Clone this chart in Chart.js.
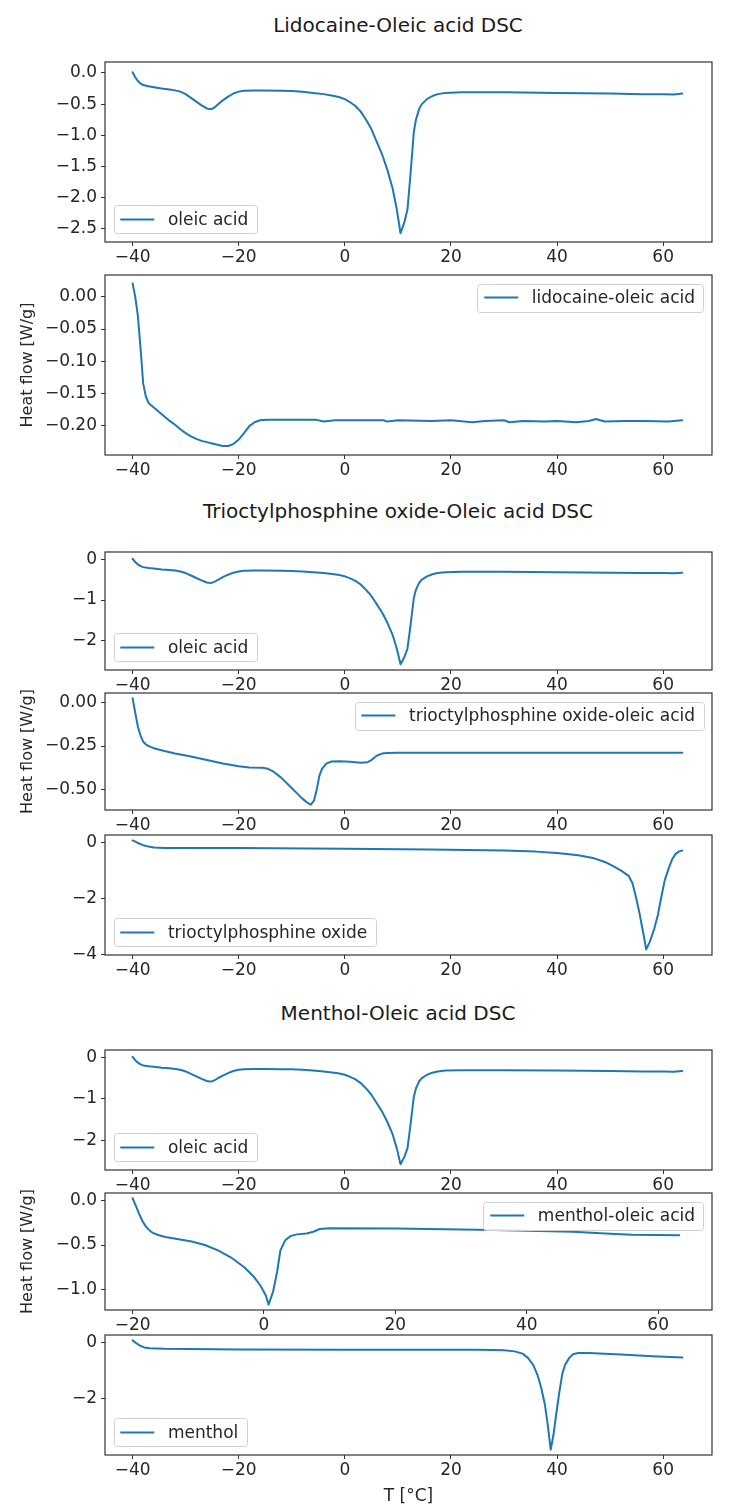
<!DOCTYPE html>
<html>
<head>
<meta charset="utf-8">
<script src="https://cdn.jsdelivr.net/npm/chart.js@4.4.1/dist/chart.umd.min.js"></script>
<style>
  html, body { margin: 0; padding: 0; background: #ffffff; }
  body { width: 752px; height: 1510px; position: relative; overflow: hidden; font-family: 'DejaVu Sans', sans-serif; }
  .title { position: absolute; left: 0; width: 796px; text-align: center; font-size: 20px; line-height: 24px; color: #1a1a1a; }
  .panel { position: absolute; left: 0; width: 752px; }
  canvas { display: block; }
</style>
</head>
<body>
<div class="title" style="top:13px">Lidocaine-Oleic acid DSC</div>
<div class="title" style="top:499px">Trioctylphosphine oxide-Oleic acid DSC</div>
<div class="title" style="top:1001px">Menthol-Oleic acid DSC</div>
<div id="host"></div>
<script>
// ---------------- data ----------------
const oleicT  = [-40, -39.5, -39, -38.5, -38, -37, -36, -34.5, -33, -32, -31, -30, -29, -28, -27, -26, -25.5, -25, -24.5, -24, -23, -22, -21, -20, -19, -17, -15, -12, -10, -8, -6, -4, -2, -1, 0, 1, 2, 3, 4, 5, 6, 7, 8, 9, 9.8, 10.5, 11.2, 11.8, 12.4, 13, 13.4, 14, 14.5, 15.5, 16.5, 17.5, 19, 22, 30, 40, 50, 56, 60, 62, 63.6];
const oleicHF = [0.01, -0.07, -0.13, -0.17, -0.195, -0.215, -0.23, -0.25, -0.265, -0.28, -0.30, -0.34, -0.40, -0.46, -0.52, -0.57, -0.58, -0.575, -0.55, -0.51, -0.44, -0.38, -0.33, -0.30, -0.285, -0.28, -0.28, -0.285, -0.29, -0.30, -0.32, -0.34, -0.37, -0.39, -0.42, -0.47, -0.53, -0.62, -0.75, -0.90, -1.10, -1.30, -1.55, -1.85, -2.19, -2.57, -2.40, -2.19, -1.60, -0.95, -0.75, -0.58, -0.50, -0.42, -0.37, -0.34, -0.32, -0.31, -0.31, -0.32, -0.33, -0.34, -0.34, -0.345, -0.33];

const lidoOleicT  = [-40, -39.5, -39, -38.5, -38, -37.5, -37, -36, -35, -34, -33, -32, -31, -30, -29, -28, -27, -26, -25, -24, -23, -22, -21, -20, -19, -18, -17, -16, -14.5, -5.5, -4, -1.8, 7.3, 8, 10, 16.4, 20, 24, 26.4, 30, 31, 33.6, 37.7, 40, 43.6, 46, 47.3, 49, 52.7, 56.4, 61, 63.6];
const lidoOleicHF = [0.021, 0.0, -0.03, -0.08, -0.135, -0.155, -0.165, -0.172, -0.179, -0.186, -0.193, -0.199, -0.206, -0.212, -0.217, -0.221, -0.224, -0.226, -0.228, -0.230, -0.232, -0.232, -0.229, -0.222, -0.212, -0.201, -0.195, -0.192, -0.191, -0.191, -0.194, -0.192, -0.192, -0.194, -0.192, -0.193, -0.192, -0.195, -0.193, -0.192, -0.195, -0.193, -0.194, -0.193, -0.195, -0.193, -0.190, -0.194, -0.193, -0.193, -0.194, -0.192];

const topoOleicT  = [-40, -39.5, -39, -38.5, -38, -37.5, -37, -36, -34, -32, -29, -26, -23, -20, -18, -15.5, -14.5, -13.5, -12, -10.5, -9, -8, -7, -6.4, -5.8, -5.3, -4.8, -4.3, -3.5, -2.5, -1, 1, 3, 4.3, 5, 6, 7, 8, 10, 20, 63.6];
const topoOleicHF = [0.023, -0.06, -0.14, -0.19, -0.225, -0.24, -0.25, -0.262, -0.278, -0.292, -0.31, -0.33, -0.35, -0.365, -0.372, -0.374, -0.38, -0.395, -0.43, -0.475, -0.52, -0.55, -0.575, -0.585, -0.56, -0.50, -0.42, -0.38, -0.35, -0.338, -0.336, -0.34, -0.345, -0.342, -0.33, -0.305, -0.293, -0.289, -0.288, -0.288, -0.288];

const topoT  = [-40, -39, -38, -37, -36, -34, -20, 0, 16, 30, 36, 40, 44, 47, 49, 50.5, 52, 53.5, 54.2, 54.8, 55.5, 56.2, 56.8, 57.5, 58.3, 59, 59.7, 60.3, 61, 61.7, 62.3, 63, 63.6];
const topoHF = [0.07, -0.02, -0.10, -0.15, -0.18, -0.20, -0.20, -0.23, -0.25, -0.29, -0.33, -0.38, -0.46, -0.57, -0.70, -0.84, -1.00, -1.20, -1.45, -1.90, -2.50, -3.20, -3.83, -3.55, -3.10, -2.60, -1.90, -1.35, -0.95, -0.60, -0.42, -0.32, -0.29];

const mentholOleicT  = [-20, -19.5, -19, -18.5, -18, -17.5, -17, -16, -15, -13, -11, -9, -7, -5, -3, -1.5, -0.5, 0.3, 0.7, 1.4, 2, 2.5, 3.2, 4, 5, 6.5, 7.5, 8.5, 10, 20, 35, 47, 52, 56, 63.2];
const mentholOleicHF = [0.026, -0.06, -0.15, -0.23, -0.29, -0.33, -0.36, -0.39, -0.41, -0.435, -0.46, -0.50, -0.56, -0.64, -0.75, -0.86, -0.96, -1.07, -1.17, -1.02, -0.80, -0.56, -0.45, -0.40, -0.38, -0.37, -0.35, -0.32, -0.31, -0.315, -0.33, -0.35, -0.37, -0.385, -0.39];

const mentholT  = [-40, -39.3, -38.6, -37.8, -36.8, -34, -20, 0, 25, 30, 32, 33.5, 34.5, 35.5, 36.3, 37, 37.7, 38.3, 38.8, 39.3, 39.8, 40.4, 41, 41.5, 42.3, 43, 44, 46, 52, 58, 63.6];
const mentholHF = [0.07, -0.03, -0.12, -0.18, -0.21, -0.23, -0.25, -0.26, -0.26, -0.28, -0.32, -0.40, -0.55, -0.80, -1.15, -1.60, -2.20, -3.00, -3.80, -3.30, -2.60, -1.80, -1.10, -0.80, -0.55, -0.42, -0.38, -0.38, -0.43, -0.49, -0.54];

// tick labels
const xTicksFull    = [-40, -20, 0, 20, 40, 60];
const xTicksMenthol = [-20, 0, 20, 40, 60];
const yTicksOleicA  = [0, -0.5, -1.0, -1.5, -2.0, -2.5];
const yTicksOleicB  = [0, -1, -2];
const yTicksLido    = [0, -0.05, -0.10, -0.15, -0.20];
const yTicksTopoOl  = [0, -0.25, -0.50];
const yTicksTopo    = [0, -2, -4];
const yTicksMenOl   = [0, -0.5, -1.0];
const yTicksMenthol = [0, -2];

// labels
const seriesLabels = ['oleic acid', 'lidocaine-oleic acid', 'trioctylphosphine oxide-oleic acid', 'trioctylphosphine oxide', 'menthol-oleic acid', 'menthol'];
const yAxisLabel = 'Heat flow [W/g]';
const xAxisLabel = 'T [°C]';

// ---------------- styling / layout ----------------
const FS = 17;
const FONT = "'DejaVu Sans'";
const LINE = '#1f77b4';
const TXT = '#262626';
const PLOT_LEFT = 105, PLOT_RIGHT = 712, PAD_LEFT = 14, PAD_TOP = 16;

const panels = [
  { top: 62,   bottom: 242,  T: oleicT,        H: oleicHF,        label: seriesLabels[0], xr: [-45.2, 69.2], yr: [-2.71, 0.175], xt: xTicksFull,    yt: yTicksOleicA,  dec: 1, loc: 'lower left' },
  { top: 275,  bottom: 455,  T: lidoOleicT,    H: lidoOleicHF,    label: seriesLabels[1], xr: [-45.2, 69.2], yr: [-0.246, 0.034], xt: xTicksFull,   yt: yTicksLido,    dec: 2, loc: 'upper right', ylab: true },
  { top: 552,  bottom: 670,  T: oleicT,        H: oleicHF,        label: seriesLabels[0], xr: [-45.2, 69.2], yr: [-2.71, 0.175], xt: xTicksFull,    yt: yTicksOleicB,  dec: 0, loc: 'lower left' },
  { top: 693,  bottom: 810,  T: topoOleicT,    H: topoOleicHF,    label: seriesLabels[2], xr: [-45.2, 69.2], yr: [-0.615, 0.053], xt: xTicksFull,   yt: yTicksTopoOl,  dec: 2, loc: 'upper right', ylab: true },
  { top: 835,  bottom: 955,  T: topoT,         H: topoHF,         label: seriesLabels[3], xr: [-45.2, 69.2], yr: [-4.03, 0.265], xt: xTicksFull,    yt: yTicksTopo,    dec: 0, loc: 'lower left' },
  { top: 1050, bottom: 1170, T: oleicT,        H: oleicHF,        label: seriesLabels[0], xr: [-45.2, 69.2], yr: [-2.71, 0.175], xt: xTicksFull,    yt: yTicksOleicB,  dec: 0, loc: 'lower left' },
  { top: 1193, bottom: 1310, T: mentholOleicT, H: mentholOleicHF, label: seriesLabels[4], xr: [-24.2, 68.2], yr: [-1.23, 0.085], xt: xTicksMenthol, yt: yTicksMenOl,   dec: 1, loc: 'upper right', ylab: true },
  { top: 1335, bottom: 1455, T: mentholT,      H: mentholHF,      label: seriesLabels[5], xr: [-45.2, 69.2], yr: [-3.99, 0.26],  xt: xTicksFull,    yt: yTicksMenthol, dec: 0, loc: 'lower left', xlab: true }
];

const fmt = (v, d) => v.toFixed(d).replace('-', '\u2212');

const framePlugin = {
  id: 'frame',
  afterDatasetsDraw(chart) {
    const { ctx, chartArea: a } = chart;
    ctx.save();
    ctx.strokeStyle = '#333333';
    ctx.lineWidth = 1.2;
    ctx.strokeRect(a.left, a.top, a.right - a.left, a.bottom - a.top);
    ctx.restore();
  }
};

const legendPlugin = {
  id: 'mplLegend',
  afterDraw(chart, args, opts) {
    const { ctx, chartArea: a } = chart;
    const ds = chart.data.datasets[0];
    const f = opts.size;
    ctx.save();
    ctx.font = f + 'px ' + FONT;
    const tw = ctx.measureText(ds.label).width;
    const w = 0.4 * f + 2 * f + 0.8 * f + tw + 0.5 * f;
    const h = 1.65 * f;
    let x, y;
    if (opts.loc === 'lower left') { x = a.left + 0.5 * f; y = a.bottom - 0.5 * f - h; }
    else { x = a.right - 0.5 * f - w; y = a.top + 0.5 * f; }
    ctx.beginPath();
    ctx.roundRect(Math.round(x) + 0.5, Math.round(y) + 0.5, Math.round(w), Math.round(h), 3);
    ctx.fillStyle = 'rgba(255,255,255,0.85)';
    ctx.fill();
    ctx.strokeStyle = '#d0d0d0';
    ctx.lineWidth = 1;
    ctx.stroke();
    const cy = y + h / 2;
    ctx.beginPath();
    ctx.moveTo(x + 0.4 * f, cy);
    ctx.lineTo(x + 2.4 * f, cy);
    ctx.strokeStyle = ds.borderColor;
    ctx.lineWidth = 2;
    ctx.stroke();
    ctx.fillStyle = TXT;
    ctx.textBaseline = 'middle';
    ctx.textAlign = 'left';
    ctx.fillText(ds.label, x + 3.2 * f, cy + 1);
    ctx.restore();
  }
};

const host = document.getElementById('host');

panels.forEach((p) => {
  const xAxisH = p.xlab ? (1510 - p.bottom) : 30;
  const plotH = p.bottom - p.top;
  const canvasH = PAD_TOP + plotH + xAxisH;
  const div = document.createElement('div');
  div.className = 'panel';
  div.style.top = (p.top - PAD_TOP) + 'px';
  div.style.height = canvasH + 'px';
  const cv = document.createElement('canvas');
  cv.width = 752; cv.height = canvasH;
  cv.style.width = '752px'; cv.style.height = canvasH + 'px';
  div.appendChild(cv);
  host.appendChild(div);

  new Chart(cv.getContext('2d'), {
    type: 'line',
    data: {
      datasets: [{
        label: p.label,
        data: p.T.map((t, i) => ({ x: t, y: p.H[i] })),
        borderColor: LINE,
        borderWidth: 2,
        pointRadius: 0,
        tension: 0,
        fill: false,
        borderJoinStyle: 'round',
        borderCapStyle: 'round'
      }]
    },
    options: {
      responsive: false,
      animation: false,
      devicePixelRatio: 1,
      events: [],
      layout: { padding: { top: PAD_TOP, left: PAD_LEFT, right: 752 - PLOT_RIGHT, bottom: 0 } },
      plugins: {
        legend: { display: false },
        tooltip: { enabled: false },
        mplLegend: { size: FS, loc: p.loc }
      },
      scales: {
        x: {
          type: 'linear',
          min: p.xr[0], max: p.xr[1],
          grid: { display: true, drawOnChartArea: false, drawTicks: true, tickLength: 4, tickColor: '#333333', tickWidth: 1 },
          border: { display: false },
          ticks: { font: { family: FONT, size: FS }, color: TXT, padding: 1, maxRotation: 0, autoSkip: false,
                   callback: (v) => fmt(v, 0) },
          afterBuildTicks: (s) => { s.ticks = p.xt.map((v) => ({ value: v })); },
          afterFit: (s) => { s.height = xAxisH; },
          title: { display: !!p.xlab, text: xAxisLabel, font: { family: FONT, size: FS }, color: TXT, padding: { top: 4, bottom: 3 } }
        },
        y: {
          type: 'linear',
          min: p.yr[0], max: p.yr[1],
          grid: { display: true, drawOnChartArea: false, drawTicks: true, tickLength: 4, tickColor: '#333333', tickWidth: 1 },
          border: { display: false },
          ticks: { font: { family: FONT, size: FS }, color: TXT, padding: 4, autoSkip: false,
                   callback: (v) => fmt(v, p.dec) },
          afterBuildTicks: (s) => { s.ticks = p.yt.map((v) => ({ value: v })); },
          afterFit: (s) => { s.width = PLOT_LEFT - PAD_LEFT; },
          title: { display: !!p.ylab, text: yAxisLabel, font: { family: FONT, size: FS - 1 }, color: TXT, padding: { top: 4, bottom: 4 } }
        }
      }
    },
    plugins: [framePlugin, legendPlugin]
  });
});
</script>
</body>
</html>
